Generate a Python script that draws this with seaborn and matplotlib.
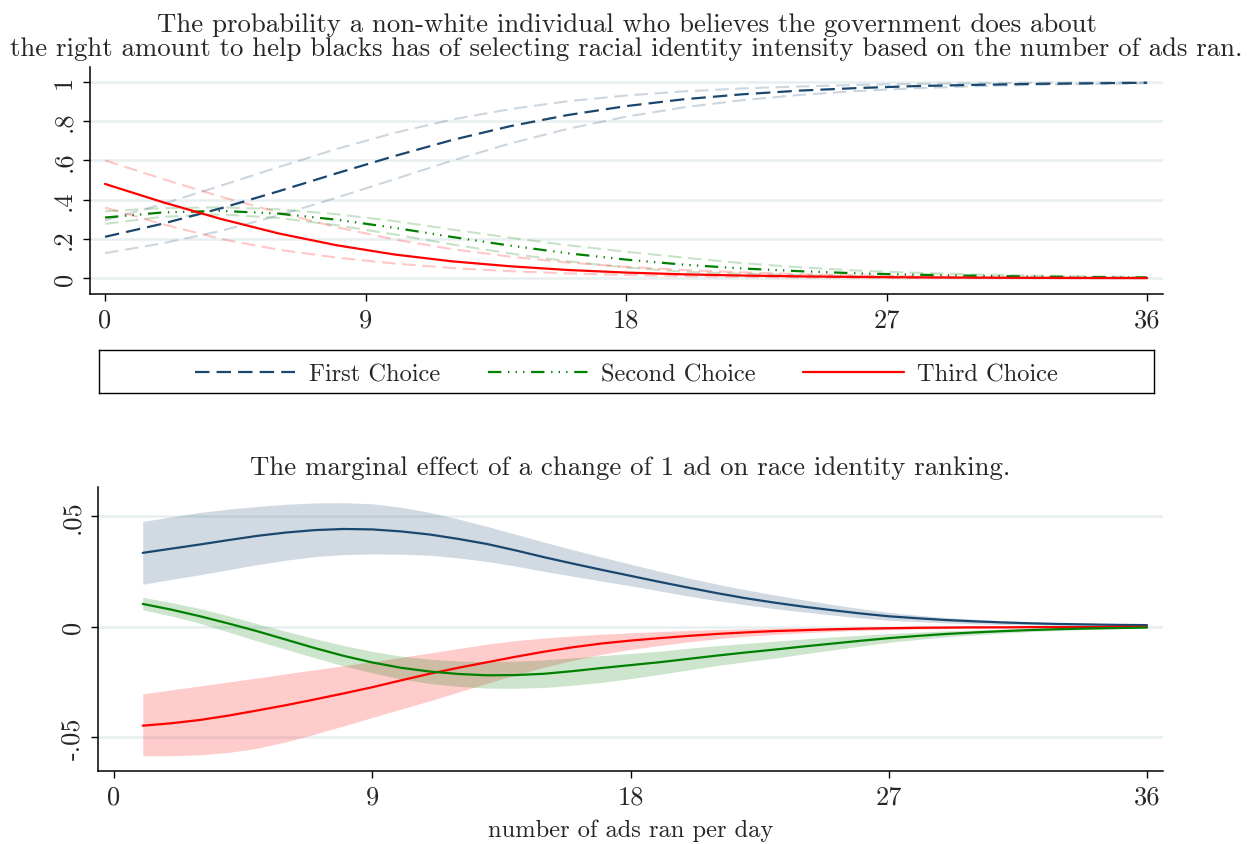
import numpy as np
import pandas as pd
import seaborn as sns
import matplotlib
matplotlib.use("Agg")
import matplotlib.pyplot as plt
from matplotlib.lines import Line2D

# ---------------- data ----------------
x_top = [0, 2, 4, 6, 8, 10, 12, 14, 16, 18, 20, 22, 24, 26, 28, 30, 32, 34, 36]

first_p = [.211, .278, .356, .443, .534, .622, .704, .774, .831, .876, .911, .936, .955,
           .968, .978, .984, .989, .992, .995]
first_lo = [.128, .178, .241, .320, .410, .504, .599, .686, .761, .822, .870, .906, .933,
            .953, .967, .977, .984, .989, .992]
first_hi = [.294, .378, .471, .566, .658, .740, .808, .861, .901, .930, .951, .966, .976,
            .984, .989, .992, .994, .996, .997]

second_p = [.309, .335, .343, .329, .298, .257, .210, .166, .127, .095, .069, .050, .036,
            .025, .018, .013, .009, .006, .004]
second_lo = [.277, .313, .325, .307, .270, .223, .172, .126, .086, .055, .033, .023, .016,
             .011, .008, .0056, .0039, .0027, .0018]
second_hi = [.341, .357, .361, .351, .326, .291, .248, .206, .168, .135, .105, .077, .056,
             .039, .028, .020, .014, .010, .007]

third_p = [.480, .387, .302, .228, .168, .121, .086, .061, .042, .029, .020, .014, .0096,
           .0066, .0045, .0031, .0021, .0014, .0010]
third_lo = [.360, .275, .200, .145, .105, .075, .052, .036, .025, .017, .011, .007, .0045,
            .003, .002, .0013, .0008, .0005, .0003]
third_hi = [.600, .505, .415, .335, .260, .197, .148, .110, .080, .058, .042, .030, .021,
            .015, .010, .007, .005, .0035, .0025]

x_bot = list(range(1, 37))

me1 = [.0335, .0354, .0373, .0393, .0412, .0427, .0438, .0443, .0441, .0432, .0418, .0398,
       .0375, .0346, .0315, .0286, .0258, .0231, .0204, .0178, .0153, .0130, .0110, .0092,
       .0076, .0061, .0048, .0039, .0031, .0025, .0020, .0016, .0013, .0011, .0009, .0008]
me1_hi = [.0477, .0498, .0518, .0533, .0545, .0555, .0561, .0562, .0557, .0541, .0518, .0488,
          .0455, .0419, .0383, .0349, .0316, .0284, .0252, .0222, .0194, .0168, .0145, .0123,
          .0102, .0083, .0066, .0053, .0042, .0035, .0028, .0023, .0019, .0016, .0014, .0012]
me1_lo = [.0193, .0215, .0236, .0259, .0282, .0302, .0318, .0327, .0330, .0329, .0324, .0312,
          .0296, .0275, .0251, .0229, .0207, .0186, .0163, .0140, .0119, .0100, .0083, .0068,
          .0054, .0041, .0030, .0024, .0018, .0014, .0011, .0009, .0007, .0005, .0004, .0004]

me2 = [.0104, .0078, .0048, .0015, -.0020, -.0058, -.0096, -.0131, -.0161, -.0185, -.0202,
       -.0213, -.0219, -.0218, -.0212, -.0200, -.0186, -.0173, -.0160, -.0145, -.0130, -.0116,
       -.0103, -.0089, -.0076, -.0063, -.0051, -.0041, -.0032, -.0025, -.0019, -.0014, -.0010,
       -.0007, -.0005, -.0003]
me2_hi = [.0134, .0110, .0083, .0050, .0014, -.0020, -.0053, -.0084, -.0111, -.0132, -.0146,
          -.0154, -.0157, -.0155, -.0149, -.0140, -.0130, -.0120, -.0110, -.0097, -.0085,
          -.0075, -.0065, -.0055, -.0046, -.0038, -.0030, -.0024, -.0018, -.0014, -.0010,
          -.0007, -.0005, -.0003, -.0002, -.0001]
me2_lo = [.0077, .0049, .0016, -.0024, -.0064, -.0102, -.0140, -.0176, -.0208, -.0236, -.0256,
          -.0269, -.0277, -.0278, -.0274, -.0264, -.0251, -.0234, -.0215, -.0195, -.0175,
          -.0158, -.0142, -.0123, -.0105, -.0087, -.0070, -.0057, -.0045, -.0036, -.0028,
          -.0021, -.0016, -.0012, -.0008, -.0005]

me3 = [-.0447, -.0436, -.0421, -.0401, -.0378, -.0354, -.0328, -.0301, -.0273, -.0242, -.0212,
       -.0185, -.0160, -.0135, -.0112, -.0092, -.0075, -.0062, -.0051, -.0041, -.0032, -.0025,
       -.0019, -.0015, -.0011, -.0008, -.0006, -.0004, -.0003, -.0002, -.0002, -.0001, -.0001,
       -.0001, -.0000, -.0000]
me3_hi = [-.0303, -.0285, -.0267, -.0249, -.0231, -.0212, -.0194, -.0176, -.0157, -.0138,
          -.0118, -.0098, -.0078, -.0062, -.0050, -.0041, -.0033, -.0027, -.0021, -.0016,
          -.0012, -.0009, -.0006, -.0004, -.0003, -.0002, -.0001, -.0001, -.0001, -.0000,
          -.0000, -.0000, -.0000, -.0000, -.0000, -.0000]
me3_lo = [-.0583, -.0583, -.0579, -.0568, -.0549, -.0520, -.0485, -.0448, -.0410, -.0372,
          -.0335, -.0295, -.0255, -.0217, -.0182, -.0151, -.0124, -.0102, -.0085, -.0068,
          -.0054, -.0043, -.0034, -.0027, -.0021, -.0016, -.0013, -.0010, -.0008, -.0006,
          -.0005, -.0004, -.0003, -.0002, -.0002, -.0001]

series_names = ["First Choice", "Second Choice", "Third Choice"]
x_ticks = [0, 9, 18, 27, 36]
top_yticks = [0, .2, .4, .6, .8, 1]
top_yticklabels = ["0", ".2", ".4", ".6", ".8", "1"]
bot_yticks = [-.05, 0, .05]
bot_yticklabels = ["-.05", "0", ".05"]

title_top = ("The probability a non-white individual who believes the government does about\n"
             "the right amount to help blacks has of selecting racial identity intensity "
             "based on the number of ads ran.")
title_bot = "The marginal effect of a change of 1 ad on race identity ranking."
xlabel = "number of ads ran per day"

# ---------------- style ----------------
sns.set_theme(style="white")
plt.rcParams["font.family"] = ["cmr10", "DejaVu Serif"]
plt.rcParams["axes.unicode_minus"] = False
plt.rcParams["mathtext.fontset"] = "cm"

NAVY = "#1a476f"
GREEN = "#008000"
RED = "#ff0000"
GRID = "#e8eff0"
FS_TITLE = 19.3
FS_TICK = 19
FS_LAB = 17.6

DASH1 = (6.5, 3.2)
DASH2 = (6.0, 3.0, 0.6, 2.8, 0.6, 2.8, 0.6, 3.0)
DASH_CI = (6.5, 3.2)

fig = plt.figure(figsize=(12.53, 8.45), dpi=100)
ax1 = fig.add_axes([0.0718, 0.6509, 0.8564, 0.2686])
ax_leg = fig.add_axes([0.079, 0.5337, 0.842, 0.0509])
ax2 = fig.add_axes([0.0782, 0.0864, 0.8500, 0.3361])


def style_axes(ax, yticks, ylabels):
    ax.set_facecolor("white")
    for s in ["top", "right"]:
        ax.spines[s].set_visible(False)
    for s in ["left", "bottom"]:
        ax.spines[s].set_color("black")
        ax.spines[s].set_linewidth(1.1)
    ax.set_xticks(x_ticks)
    ax.set_xticklabels([str(t) for t in x_ticks], fontsize=FS_TICK)
    ax.set_yticks(yticks)
    ax.set_yticklabels(ylabels, fontsize=FS_TICK, rotation=90, va="center")
    ax.tick_params(axis="both", direction="out", length=5, width=1.0, color="black",
                   left=True, bottom=True, pad=5)
    ax.tick_params(axis="y", pad=5)
    for t in yticks:
        ax.axhline(t, color=GRID, lw=1.8, zorder=0)
    ax.grid(False)


# ---------------- top panel ----------------
ci_sets = [(first_lo, first_hi, NAVY), (second_lo, second_hi, GREEN), (third_lo, third_hi, RED)]
for lo, hi, c in ci_sets:
    for arr in (lo, hi):
        sns.lineplot(x=x_top, y=arr, ax=ax1, color=c, lw=1.5, alpha=0.22)
        ax1.get_lines()[-1].set_dashes(DASH_CI)

sns.lineplot(x=x_top, y=first_p, ax=ax1, color=NAVY, lw=1.6)
ax1.get_lines()[-1].set_dashes(DASH1)
sns.lineplot(x=x_top, y=second_p, ax=ax1, color=GREEN, lw=1.6)
ax1.get_lines()[-1].set_dashes(DASH2)
sns.lineplot(x=x_top, y=third_p, ax=ax1, color=RED, lw=1.6)

ax1.set_xlim(-0.52, 36.55)
ax1.set_ylim(-0.080, 1.075)
style_axes(ax1, top_yticks, top_yticklabels)
ax1.set_xlabel("")
ax1.set_ylabel("")
ax1.set_title(title_top, fontsize=FS_TITLE, pad=9, linespacing=1.0)

# ---------------- legend box ----------------
ax_leg.set_xticks([])
ax_leg.set_yticks([])
for s in ax_leg.spines.values():
    s.set_visible(True)
    s.set_color("black")
    s.set_linewidth(1.0)
ax_leg.set_facecolor("white")
h1 = Line2D([], [], color=NAVY, lw=1.6, dashes=DASH1)
h2 = Line2D([], [], color=GREEN, lw=1.6, dashes=DASH2)
h3 = Line2D([], [], color=RED, lw=1.6)
leg = ax_leg.legend([h1, h2, h3], series_names, loc="center", ncol=3, frameon=False,
                    fontsize=FS_LAB, handlelength=4.1, handletextpad=0.55, columnspacing=1.95,
                    borderaxespad=0, borderpad=0, bbox_to_anchor=(0.5, 0.44))

# ---------------- bottom panel ----------------
bands = [(me1_lo, me1_hi, NAVY), (me3_lo, me3_hi, RED), (me2_lo, me2_hi, GREEN)]
for lo, hi, c in bands:
    ax2.fill_between(x_bot, lo, hi, color=c, alpha=0.2, lw=0, zorder=2)

sns.lineplot(x=x_bot, y=me1, ax=ax2, color=NAVY, lw=1.6, zorder=3)
sns.lineplot(x=x_bot, y=me3, ax=ax2, color=RED, lw=1.6, zorder=3)
sns.lineplot(x=x_bot, y=me2, ax=ax2, color=GREEN, lw=1.6, zorder=3)

ax2.set_xlim(-0.56, 36.56)
ax2.set_ylim(-0.0652, 0.0633)
style_axes(ax2, bot_yticks, bot_yticklabels)
ax2.set_ylabel("")
ax2.set_title(title_bot, fontsize=FS_TITLE, pad=9)
ax2.set_xlabel(xlabel, fontsize=FS_LAB, labelpad=7)

fig.savefig("out.png", dpi=100, facecolor="white")
